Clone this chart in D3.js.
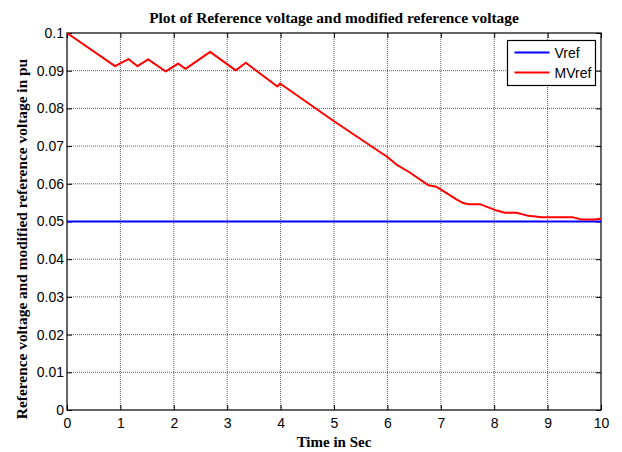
<!DOCTYPE html>
<html>
<head>
<meta charset="utf-8">
<script src="https://cdn.jsdelivr.net/npm/d3@7"></script>
<style>
  html, body { margin: 0; padding: 0; background: #fff; }
  svg text { fill: #000; }
</style>
</head>
<body>
<div id="chart"></div>
<script>
  // Time axis ticks and value ticks
  const xTicks = [0, 1, 2, 3, 4, 5, 6, 7, 8, 9, 10];
  const yTicks = [0, 0.01, 0.02, 0.03, 0.04, 0.05, 0.06, 0.07, 0.08, 0.09, 0.1];

  // Vref: constant reference
  const vrefTime  = [0, 10];
  const vrefValue = [0.05, 0.05];

  // MVref: modified reference
  const mvrefTime = [0, 0.90, 1.15, 1.32, 1.52, 1.85, 2.08, 2.22, 2.68, 3.16, 3.35,
    3.94, 3.99, 5.0, 6.0, 6.17, 6.42, 6.77, 6.92, 7.02, 7.30, 7.42, 7.52, 7.73,
    8.05, 8.20, 8.42, 8.64, 8.89, 9.48, 9.64, 9.86, 10];
  const mvrefValue = [0.1, 0.0912, 0.0931, 0.0912, 0.0930, 0.0898, 0.0919, 0.0905, 0.0950, 0.0901, 0.0921,
    0.0858, 0.0866, 0.0766, 0.0671, 0.0651, 0.0630, 0.0596, 0.0592, 0.0583, 0.0558, 0.0549, 0.0546, 0.0546,
    0.0529, 0.0523, 0.0523, 0.0515, 0.0511, 0.0511, 0.0505, 0.0505, 0.0507];

  const legendNames = ['Vref', 'MVref'];
  const colors = ['#0000ff', '#ff0000'];

  const width = 622, height = 452;
  const m = { left: 67, right: 21, top: 33, bottom: 42 };
  const iw = width - m.left - m.right;
  const ih = height - m.top - m.bottom;

  const svg = d3.select('#chart').append('svg')
    .attr('width', width)
    .attr('height', height);

  const x = d3.scaleLinear().domain([0, 10]).range([0, iw]);
  const y = d3.scaleLinear().domain([0, 0.1]).range([ih, 0]);

  const g = svg.append('g').attr('transform', `translate(${m.left},${m.top})`);

  // Grid (dotted, MATLAB style)
  g.append('g').selectAll('line')
    .data(xTicks.slice(1, -1))
    .join('line')
    .attr('x1', d => x(d)).attr('x2', d => x(d))
    .attr('y1', 0).attr('y2', ih)
    .attr('stroke', '#333').attr('stroke-width', 0.8)
    .attr('stroke-dasharray', '1,1');

  g.append('g').selectAll('line')
    .data(yTicks.slice(1, -1))
    .join('line')
    .attr('x1', 0).attr('x2', iw)
    .attr('y1', d => y(d)).attr('y2', d => y(d))
    .attr('stroke', '#333').attr('stroke-width', 0.8)
    .attr('stroke-dasharray', '1,1');

  // Axes with inward ticks
  const tickFont = 'Arial, "Liberation Sans", sans-serif';
  const xAxis = g.append('g').attr('transform', `translate(0,${ih})`)
    .call(d3.axisBottom(x).tickValues(xTicks).tickSize(-5).tickPadding(8).tickFormat(d3.format('d')));
  const yAxis = g.append('g')
    .call(d3.axisLeft(y).tickValues(yTicks).tickSize(-5).tickPadding(3).tickFormat(d => d === 0 ? '0' : d3.format('.2~f')(d)));
  g.append('g').attr('transform', `translate(${iw},0)`)
    .call(d3.axisLeft(y).tickValues(yTicks).tickSize(5).tickFormat(''));
  g.append('g')
    .call(d3.axisBottom(x).tickValues(xTicks).tickSize(5).tickFormat(''));

  [xAxis, yAxis].forEach(a => {
    a.selectAll('text').attr('font-family', tickFont).attr('font-size', 14).attr('fill', '#000');
  });
  g.selectAll('.domain').remove();
  g.selectAll('.tick line').attr('stroke', '#000').attr('stroke-width', 1);

  // Plot box
  g.append('rect')
    .attr('width', iw).attr('height', ih)
    .attr('fill', 'none').attr('stroke', '#000').attr('stroke-width', 1.2);

  // Lines
  const line = d3.line().x(d => x(d[0])).y(d => y(d[1]));
  g.append('path')
    .datum(d3.zip(vrefTime, vrefValue))
    .attr('d', line)
    .attr('fill', 'none').attr('stroke', colors[0]).attr('stroke-width', 2);
  g.append('path')
    .datum(d3.zip(mvrefTime, mvrefValue))
    .attr('d', line)
    .attr('fill', 'none').attr('stroke', colors[1]).attr('stroke-width', 2)
    .attr('stroke-linejoin', 'round');

  // Legend
  const lg = g.append('g').attr('transform', `translate(${507.5 - m.left},${40.5 - m.top})`);
  lg.append('rect')
    .attr('width', 88).attr('height', 45)
    .attr('fill', '#fff').attr('stroke', '#000').attr('stroke-width', 1.2);
  legendNames.forEach((name, i) => {
    const ly = 12 + i * 20;
    lg.append('line')
      .attr('x1', 7).attr('x2', 42).attr('y1', ly).attr('y2', ly)
      .attr('stroke', colors[i]).attr('stroke-width', 2);
    lg.append('text')
      .attr('x', 47).attr('y', ly + 5)
      .attr('font-family', tickFont).attr('font-size', 14)
      .text(name);
  });

  // Titles
  const serif = '"Times New Roman", "Liberation Serif", serif';
  svg.append('text')
    .attr('x', m.left + iw / 2).attr('y', 23)
    .attr('text-anchor', 'middle')
    .attr('font-family', serif).attr('font-weight', 'bold').attr('font-size', 15.4)
    .text('Plot of Reference voltage and modified reference voltage');

  svg.append('text')
    .attr('x', m.left + iw / 2).attr('y', 447)
    .attr('text-anchor', 'middle')
    .attr('font-family', serif).attr('font-weight', 'bold').attr('font-size', 15)
    .text('Time in Sec');

  svg.append('text')
    .attr('transform', 'translate(27,239) rotate(-90)')
    .attr('text-anchor', 'middle')
    .attr('font-family', serif).attr('font-weight', 'bold').attr('font-size', 15.4)
    .text('Reference voltage and modified reference voltage in pu');
</script>
</body>
</html>
